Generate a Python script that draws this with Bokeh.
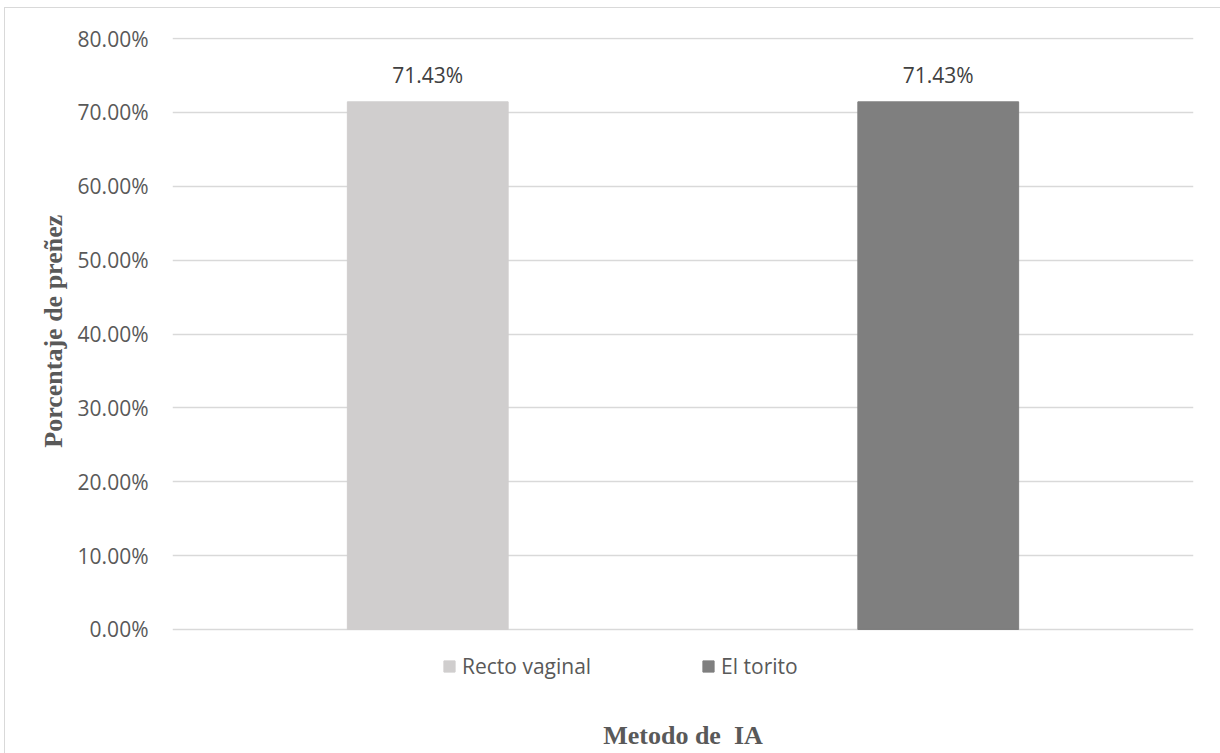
from bokeh.plotting import figure
from bokeh.models import (ColumnDataSource, FactorRange, Range1d, FixedTicker,
                          NumeralTickFormatter, LabelSet, Legend, LegendItem, Label)
from bokeh.core.properties import value
from bokeh.embed import file_html
from bokeh.resources import INLINE

# ---- data ----
methods = ["Recto vaginal", "El torito"]
pregnancy_rate = [0.7143, 0.7143]
bar_colors = ["#d0cece", "#7f7f7f"]
rate_labels = ["71.43%", "71.43%"]
y_ticks = [0.0, 0.1, 0.2, 0.3, 0.4, 0.5, 0.6, 0.7, 0.8]
x_title = "Metodo de\u00a0 IA"
y_title = "Porcentaje de preñez"

src = ColumnDataSource(dict(x=methods, y=pregnancy_rate, color=bar_colors, lab=rate_labels))

# frame spans the plot area plus the legend / x-title strip below it
p = figure(width=1215, height=745, x_range=FactorRange(*methods, range_padding=0),
           y_range=Range1d(-0.1611, 0.8014), output_backend="svg", toolbar_location=None,
           min_border_left=167, min_border_right=27, min_border_top=29, min_border_bottom=5,
           margin=(8, 0, 0, 5))
p.styles = {"outline": "1.5px solid #d9d9d9"}
p.outline_line_color = None
p.background_fill_color = "white"
p.border_fill_color = "white"

r = p.vbar(x="x", top="y", width=0.315, color="color", source=src)

# y axis
p.yaxis.ticker = FixedTicker(ticks=y_ticks)
p.yaxis.formatter = NumeralTickFormatter(format="0.00%")
p.yaxis.axis_line_color = None
p.yaxis.major_tick_line_color = None
p.yaxis.minor_tick_line_color = None
p.yaxis.major_tick_out = 0
p.yaxis.major_tick_in = 0
p.yaxis.major_label_standoff = 24
p.yaxis.major_label_text_font = "Open Sans"
p.yaxis.major_label_text_font_size = "21px"
p.yaxis.major_label_text_color = "#595959"
# leading no-break spaces shift the centred title up to the plot-area centre
p.yaxis.axis_label = "\u00a0" * 19 + y_title
p.yaxis.axis_label_text_font = "Liberation Serif"
p.yaxis.axis_label_text_font_style = "bold"
p.yaxis.axis_label_text_font_size = "26px"
p.yaxis.axis_label_text_color = "#595959"
p.yaxis.axis_label_standoff = 7

p.xaxis.visible = False
p.xgrid.grid_line_color = None
p.ygrid.grid_line_color = "#d9d9d9"
p.ygrid.grid_line_width = 1.5
p.ygrid.ticker = FixedTicker(ticks=y_ticks)

labels = LabelSet(x="x", y="y", text="lab", source=src, text_align="center",
                  text_baseline="alphabetic", y_offset=19,
                  text_font=value("Open Sans"), text_font_size="21px", text_color="#404040")
p.add_layout(labels)

# x title
p.add_layout(Label(x=1.0, y=-0.1435, text=x_title, text_align="center",
                   text_baseline="middle", text_font="Liberation Serif",
                   text_font_style="bold", text_font_size="26px", text_color="#595959"))

legend = Legend(items=[LegendItem(label=methods[i], renderers=[r], index=i) for i in range(2)],
                orientation="horizontal", location=(270, 68), padding=0, margin=0,
                spacing=110, glyph_width=14, glyph_height=14, label_standoff=6,
                label_text_font="Open Sans", label_text_font_size="21px",
                label_text_color="#595959", border_line_color=None,
                background_fill_alpha=0)
p.add_layout(legend, "center")

open("out.html", "w").write(file_html(p, INLINE))
